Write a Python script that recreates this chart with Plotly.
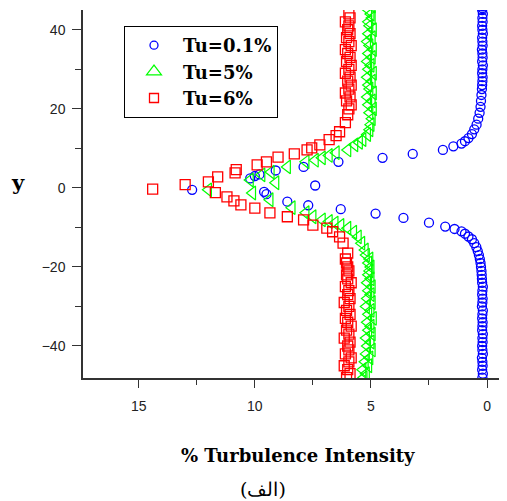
import plotly.graph_objects as go

# ---- data ----
blue_x = [0.20, 0.18, 0.21, 0.19, 0.20, 0.22, 0.18, 0.20, 0.21, 0.19, 0.20, 0.18, 0.21, 0.20,
          0.19, 0.21, 0.20, 0.18, 0.22, 0.20, 0.19, 0.21, 0.20, 0.18, 0.21, 0.22, 0.23,
          0.24, 0.26, 0.28, 0.31, 0.35, 0.40, 0.46, 0.55, 0.65, 0.80, 0.95, 1.10, 1.40, 1.80,
          2.50, 3.60, 4.80, 6.30, 7.70, 8.60, 9.50, 9.60, 12.70, 7.40, 10.20, 10.00, 9.80, 9.10,
          7.90, 6.40, 4.50, 3.20, 1.90, 1.45, 1.10, 0.95, 0.80, 0.65, 0.55, 0.45, 0.38, 0.32,
          0.28, 0.26, 0.24, 0.22, 0.21, 0.20, 0.19, 0.21, 0.20, 0.18, 0.21, 0.19, 0.20, 0.22,
          0.19, 0.20, 0.21, 0.18, 0.20, 0.21, 0.19, 0.20, 0.18, 0.21, 0.20, 0.19]
blue_y = [-48, -47, -46, -45, -44, -43, -42, -41, -40, -39, -38, -37, -36, -35,
          -34, -33, -32, -31, -30, -29, -28, -27, -26, -25, -24, -23, -22,
          -21, -20, -19, -18, -17, -16, -15, -14, -13, -12.3, -11.6, -11.0, -10.4, -9.8,
          -8.8, -7.6, -6.5, -5.4, -4.4, -3.5, -1.6, -1.0, -0.5, 0.6, 2.4, 3.0, 3.4, 4.4,
          5.3, 6.6, 7.6, 8.6, 9.6, 10.5, 11.2, 11.8, 12.6, 13.6, 14.8, 16.0, 17.5, 19.0,
          20.5, 22, 23.5, 25, 26, 27, 28, 29, 30, 31, 32, 33, 34, 35,
          36, 37, 38, 39, 40, 41, 42, 43, 44, 45, 45.5, 46]

green_x = [5.30, 5.20, 5.35, 5.10, 5.25, 5.05, 5.20, 4.95, 5.15, 5.00, 5.20, 4.95, 5.10, 5.00,
           5.15, 4.90, 5.10, 5.00, 5.20, 4.95, 5.15, 5.00, 5.10, 4.95, 5.15, 5.00, 5.10, 5.05,
           5.00, 5.10, 5.05, 5.20, 5.25, 5.40, 5.55, 5.75, 6.00, 6.30, 6.55, 6.80, 7.10, 7.50,
           7.80, 8.40, 9.35, 10.10, 12.00, 9.10, 10.20, 9.70, 9.30, 8.60, 7.80, 7.40, 7.10, 6.80,
           6.50, 6.00, 5.70, 5.50, 5.35, 5.15, 5.05, 5.00, 4.95, 5.05, 4.90, 5.10, 4.95, 5.15,
           4.90, 5.05, 5.10, 4.95, 5.15, 4.90, 5.10, 5.00, 5.15, 4.95, 5.10, 4.90, 5.05, 5.15,
           4.95, 5.10, 4.90, 5.05, 5.10, 4.95, 5.00, 5.10, 4.95]
green_y = [-48, -47, -46, -45, -44, -43, -42, -41, -40, -39, -38, -37, -36, -35,
           -34, -33, -32, -31, -30, -29, -28, -27, -26, -25, -24, -23, -22, -21,
           -20, -19, -18, -17, -15.7, -14, -12.4, -11.2, -10.2, -9.5, -8.9, -8.5, -8.1, -7.3,
           -6.3, -5.0, -3.0, -1.3, -0.5, 1.3, 2.0, 3.3, 4.0, 5.3, 6.6, 7.0, 7.6, 8.2,
           8.9, 9.6, 10.9, 11.5, 12.2, 13.5, 14.7, 16.0, 17.5, 19, 20, 21, 22, 23,
           24, 25, 26, 27, 28, 29, 30, 31, 32, 33, 34, 35, 36, 37,
           38, 39, 40, 41, 42, 43, 44, 45, 46]

red_x = [6.05, 5.90, 6.00, 6.15, 5.95, 5.85, 6.10, 5.95, 6.00, 5.90, 6.15, 5.95, 6.05, 5.85,
         6.00, 6.10, 5.90, 6.05, 5.95, 6.15, 5.90, 6.00, 5.95, 6.10, 5.85, 6.00, 6.05, 5.95,
         6.00, 6.05, 6.10, 6.00, 6.20, 6.35, 6.65, 6.90, 7.50, 7.90, 8.60, 9.35, 10.00, 10.60,
         10.90, 11.20, 11.70, 14.40, 13.00, 12.00, 11.60, 10.85, 10.80, 9.90, 9.50, 9.00, 8.30,
         7.75, 7.55, 7.20, 6.80, 6.50, 6.35, 6.10, 6.00, 5.95, 5.85, 6.05, 5.90, 6.10, 5.95,
         5.85, 6.00, 5.90, 6.10, 5.95, 5.85, 6.05, 5.90, 6.00, 6.10, 5.85, 5.95, 6.05, 5.90,
         6.00, 5.95, 6.10, 5.90, 5.95]
red_y = [-48, -47, -46, -45, -44, -43, -42, -41, -40, -39, -38, -37, -36, -35,
         -34, -33, -32, -31, -30, -29, -28, -27, -26, -25, -24, -23, -22, -21,
         -20, -19, -18, -16.5, -14.0, -12.4, -11.1, -10.2, -9.4, -8.1, -7.3, -6.3, -5.1, -4.3,
         -3.3, -2.3, -1.2, -0.3, 0.8, 1.5, 2.8, 3.8, 4.6, 5.8, 6.6, 7.8, 8.6,
         9.6, 10.1, 10.9, 12.2, 13.2, 14.2, 16.5, 18.5, 20, 21, 22, 23, 24, 25,
         26, 27, 28, 29, 30, 31, 32, 33, 34, 35, 36, 37, 38, 39,
         40, 41, 42, 43, 44]

series_names = ["Tu=0.1%", "Tu=5%", "Tu=6%"]
x_ticks = [15, 10, 5, 0]
y_ticks = [-40, -20, 0, 20, 40]

BLUE = "#0000FF"
GREEN = "#00FF00"
RED = "#FF0000"
SERIF = "DejaVu Serif, Liberation Serif, serif"

fig = go.Figure()

fig.add_trace(go.Scatter(x=blue_x, y=blue_y, mode="markers", showlegend=False,
                         marker=dict(symbol="circle-open", size=9, color=BLUE,
                                     line=dict(width=1.3, color=BLUE))))
fig.add_trace(go.Scatter(x=green_x, y=green_y, mode="markers", showlegend=False,
                         marker=dict(symbol="triangle-left-open", size=12, color=GREEN,
                                     line=dict(width=1.2, color=GREEN))))
fig.add_trace(go.Scatter(x=red_x, y=red_y, mode="markers", showlegend=False,
                         marker=dict(symbol="square-open", size=10, color=RED,
                                     line=dict(width=1.3, color=RED))))

# legend-only entries (legend shows upward triangle)
fig.add_trace(go.Scatter(x=[None], y=[None], mode="markers", name=series_names[0],
                         marker=dict(symbol="circle-open", size=8, color=BLUE,
                                     line=dict(width=1.3, color=BLUE))))
fig.add_trace(go.Scatter(x=[None], y=[None], mode="markers", name=series_names[1],
                         marker=dict(symbol="triangle-up-open", size=13, color=GREEN,
                                     line=dict(width=1.2, color=GREEN))))
fig.add_trace(go.Scatter(x=[None], y=[None], mode="markers", name=series_names[2],
                         marker=dict(symbol="square-open", size=9, color=RED,
                                     line=dict(width=1.3, color=RED))))

axis_font = dict(family="Liberation Sans, Arial, sans-serif", size=14, color="#222222")

# page has an 8px body margin: figure is drawn at (8, 8)
OFF = 8
W, H = 507 - OFF, 501 - OFF
L, R, T, B = 83 - OFF, 0, 10 - OFF, H - (378 - OFF)
pw, ph = W - L - R, H - T - B

def px2paper(px, py):
    return (px - OFF - L) / pw, 1 - (py - OFF - T) / ph

lx, ly = px2paper(124, 26)

fig.update_layout(
    width=W, height=H,
    margin=dict(l=L, r=R, t=T, b=B),
    paper_bgcolor="white", plot_bgcolor="white",
    showlegend=True,
    legend=dict(x=lx, y=ly, xanchor="left", yanchor="top",
                bgcolor="white", bordercolor="black", borderwidth=1,
                font=dict(family=SERIF, size=18, color="black", weight="bold"),
                itemwidth=48, tracegroupgap=0),
    xaxis=dict(range=[17.4, -0.86], tickvals=x_ticks, ticks="outside", ticklen=8,
               tickwidth=1.3, tickcolor="#333333", showline=True, linecolor="#333333",
               linewidth=1.5, showgrid=False, zeroline=False, tickfont=axis_font,
               ticklabelstandoff=6,
               minor=dict(tickvals=[12.5, 7.5, 2.5], ticks="outside", ticklen=5,
                          tickcolor="#333333", tickwidth=1.3, showgrid=False)),
    yaxis=dict(range=[-48.1, 45], tickvals=y_ticks, ticks="outside", ticklen=9,
               tickwidth=1.3, tickcolor="#333333", showline=True, linecolor="#333333",
               linewidth=1.5, showgrid=False, zeroline=False, tickfont=axis_font,
               ticklabelstandoff=4,
               minor=dict(tickvals=[-30, -10, 10, 30], ticks="outside", ticklen=6,
                          tickcolor="#333333", tickwidth=1.3, showgrid=False)),
)

labels = [
    ("<b>y</b>", 18, 183, 21),
    ("<b>% Turbulence Intensity</b>", 298, 455, 18),
    ("(الف)", 263, 489, 19),
]
for text, px, py, fs in labels:
    ax, ay = px2paper(px, py)
    fig.add_annotation(text=text, x=ax, y=ay, xref="paper", yref="paper",
                       xanchor="center", yanchor="middle", showarrow=False,
                       font=dict(family=SERIF, size=fs, color="black"))

fig.write_html("out.html")
